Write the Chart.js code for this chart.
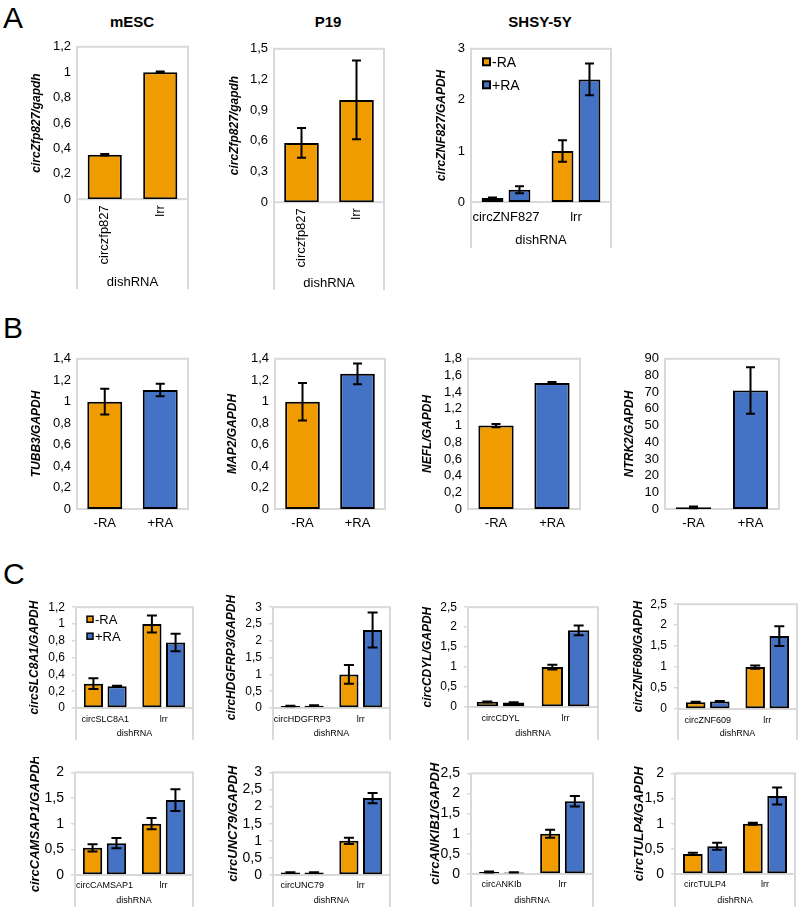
<!DOCTYPE html>
<html>
<head>
<meta charset="utf-8">
<script src="https://cdn.jsdelivr.net/npm/chart.js@4.4.1/dist/chart.umd.min.js"></script>
<style>
  body { margin: 0; background: #fff; width: 799px; height: 907px; position: relative; overflow: hidden;
         font-family: "Liberation Sans", Arial, sans-serif; }
  canvas { position: absolute; }
  .letter { position: absolute; font-size: 30px; line-height: 1; color: #000; }
  .ttl { position: absolute; font-size: 15px; font-weight: bold; line-height: 1; transform: translateX(-50%); color: #000; }
</style>
</head>
<body>
<div class="letter" style="left:3px;top:3px">A</div>
<div class="letter" style="left:3px;top:313px">B</div>
<div class="letter" style="left:3px;top:559px">C</div>
<div class="ttl" style="left:132px;top:14px">mESC</div>
<div class="ttl" style="left:328px;top:14px">P19</div>
<div class="ttl" style="left:540px;top:14px">SHSY-5Y</div>
<script>
// ---- data ----
const seriesNames = ["-RA", "+RA"];

// panel A
const mescCats = ["circzfp827", "lrr"];
const mescVals = [0.35, 1.0];
const mescErr = [0.005, 0.005];
const p19Cats = ["circzfp827", "lrr"];
const p19Vals = [0.58, 1.0];
const p19Err = [0.145, 0.385];
const shsyCats = ["circZNF827", "lrr"];
const shsyMinus = [0.08, 1.0];
const shsyMinusErr = [0.01, 0.21];
const shsyPlus = [0.24, 2.4];
const shsyPlusErr = [0.07, 0.31];

// panel B (-RA, +RA)
const raCats = ["-RA", "+RA"];
const tubb3Vals = [1.0, 1.11];
const tubb3Err = [0.12, 0.058];
const map2Vals = [1.0, 1.26];
const map2Err = [0.175, 0.097];
const neflVals = [1.0, 1.51];
const neflErr = [0.02, 0.012];
const ntrk2Vals = [1.0, 71];
const ntrk2Err = [0.5, 14];

// panel C (per gene: [circ knockdown, lrr])
const slc8a1Minus = [0.29, 1.0], slc8a1MinusErr = [0.063, 0.1];
const slc8a1Plus = [0.26, 0.78], slc8a1PlusErr = [0.005, 0.105];
const hdgfrp3Minus = [0.06, 1.0], hdgfrp3MinusErr = [0.01, 0.28];
const hdgfrp3Plus = [0.07, 2.32], hdgfrp3PlusErr = [0.01, 0.52];
const cdylMinus = [0.13, 1.0], cdylMinusErr = [0.01, 0.06];
const cdylPlus = [0.11, 1.92], cdylPlusErr = [0.01, 0.12];
const znf609Minus = [0.16, 1.0], znf609MinusErr = [0.01, 0.04];
const znf609Plus = [0.18, 1.74], znf609PlusErr = [0.01, 0.235];
const camsap1Minus = [0.53, 1.0], camsap1MinusErr = [0.07, 0.11];
const camsap1Plus = [0.62, 1.46], camsap1PlusErr = [0.1, 0.21];
const unc79Minus = [0.07, 1.0], unc79MinusErr = [0.01, 0.09];
const unc79Plus = [0.07, 2.25], unc79PlusErr = [0.01, 0.15];
const ankib1Minus = [0.05, 1.0], ankib1MinusErr = [0.01, 0.1];
const ankib1Plus = [0.04, 1.81], ankib1PlusErr = [0.005, 0.13];
const tulp4Minus = [0.4, 1.0], tulp4MinusErr = [0.02, 0.02];
const tulp4Plus = [0.55, 1.55], tulp4PlusErr = [0.07, 0.17];

const ORANGE = "#F09C00";
const BLUE = "#4472C4";
const FONT = '"Liberation Sans", Arial, sans-serif';

// comma decimals like the original
function fmt(v) {
  return (Math.round(v * 100) / 100).toString().replace(".", ",");
}

// error bars drawn from the y scale
const errorBars = {
  id: "errorBars",
  afterDatasetsDraw(chart, args, opts) {
    const ctx = chart.ctx;
    const y = chart.scales.y;
    chart.data.datasets.forEach((ds, i) => {
      chart.getDatasetMeta(i).data.forEach((bar, j) => {
        const v = ds.data[j], e = ds.errors[j];
        const top = y.getPixelForValue(v + e);
        const bot = y.getPixelForValue(Math.max(v - e, 0));
        ctx.save();
        ctx.strokeStyle = "#000";
        ctx.lineWidth = 2;
        ctx.beginPath();
        ctx.moveTo(bar.x, top); ctx.lineTo(bar.x, bot);
        ctx.moveTo(bar.x - opts.cap, top); ctx.lineTo(bar.x + opts.cap, top);
        ctx.moveTo(bar.x - opts.cap, bot); ctx.lineTo(bar.x + opts.cap, bot);
        ctx.stroke();
        ctx.restore();
      });
    });
  }
};

// grey plot frame + excel style category brackets
const frame = {
  id: "frame",
  beforeDatasetsDraw(chart, args, opts) {
    const { ctx, chartArea: a } = chart;
    ctx.save();
    ctx.strokeStyle = "#d9d9d9";
    ctx.lineWidth = 2;
    ctx.strokeRect(a.left, a.top, a.right - a.left, a.bottom - a.top);
    if (opts.ext) {
      ctx.beginPath();
      ctx.moveTo(a.left, a.bottom); ctx.lineTo(a.left, opts.ext);
      ctx.moveTo(a.right, a.bottom); ctx.lineTo(a.right, opts.ext);
      ctx.stroke();
    }
    ctx.restore();
  }
};

// small legend inside the plot, top left (like the excel one)
const boxLegend = {
  id: "boxLegend",
  afterDraw(chart, args, opts) {
    if (!opts.show) return;
    const { ctx, chartArea: a } = chart;
    ctx.save();
    chart.data.datasets.forEach((ds, i) => {
      const x = a.left + opts.x0;
      const cy = a.top + opts.y0 + i * opts.gap;
      ctx.fillStyle = ds.backgroundColor;
      ctx.fillRect(x, cy - opts.box / 2, opts.box, opts.box);
      ctx.strokeStyle = "#000";
      ctx.lineWidth = opts.lw;
      ctx.strokeRect(x, cy - opts.box / 2, opts.box, opts.box);
      ctx.fillStyle = "#000";
      ctx.font = opts.size + "px " + FONT;
      ctx.textBaseline = "middle";
      ctx.textAlign = "left";
      ctx.fillText(ds.label, x + opts.box + 2, cy + 1);
    });
    ctx.restore();
  }
};

function makeChart(o) {
  const L = o.tx - 10, T = o.pt - 12, R = o.pr + 5;
  const xlh = o.xf * 1.2;
  const B = Math.max(o.dy ? o.dy + xlh / 2 : o.pb + 26, o.ext || 0);
  const cv = document.createElement("canvas");
  cv.width = R - L;
  cv.height = Math.round(B - T);
  cv.style.left = L + "px";
  cv.style.top = T + "px";
  document.body.appendChild(cv);

  new Chart(cv, {
    type: "bar",
    data: {
      labels: o.cats,
      datasets: o.sets.map((s) => ({
        label: s.label,
        data: s.data,
        errors: s.err,
        backgroundColor: s.color,
        borderColor: "#000",
        borderWidth: 2,
        borderSkipped: false,
        categoryPercentage: o.cp,
        barPercentage: o.bp
      }))
    },
    options: {
      responsive: false,
      animation: false,
      layout: { padding: { top: 12, right: 5, left: 0, bottom: 0 } },
      plugins: {
        legend: { display: false },
        tooltip: { enabled: false },
        frame: { ext: o.ext ? o.ext - T : 0 },
        errorBars: { cap: o.cap },
        boxLegend: o.legend ? { show: true, ...o.legend } : { show: false }
      },
      scales: {
        x: {
          grid: { display: false, drawTicks: false },
          border: { display: false },
          ticks: {
            color: "#000", font: { family: FONT, size: o.xf }, padding: o.xp, autoSkip: false,
            maxRotation: o.rot ? 90 : 0, minRotation: o.rot ? 90 : 0
          },
          title: o.dy
            ? { display: true, text: "dishRNA", color: "#000", font: { family: FONT, size: o.xf },
                padding: { top: 0, bottom: B - o.dy - xlh / 2 } }
            : { display: false },
          afterFit: (s) => { s.height = B - o.pb; }
        },
        y: {
          min: 0,
          max: o.max,
          ticks: { stepSize: o.step, callback: fmt, color: "#000", font: { family: FONT, size: o.yfTick },
                   padding: o.marks ? 7 : 6, autoSkip: false },
          grid: o.marks
            ? { drawOnChartArea: false, drawTicks: true, tickLength: 4, color: "#d9d9d9", lineWidth: 1.5 }
            : { display: false, drawTicks: false },
          border: { display: false },
          title: { display: true, text: o.yt, color: "#000",
                   font: { family: FONT, size: o.yf, weight: "bold", style: "italic" },
                   padding: { top: 10 - o.yf * 0.6, bottom: 0 } },
          afterFit: (s) => { s.width = o.pl - L; }
        }
      }
    },
    plugins: [frame, errorBars, boxLegend]
  });
}

const two = (m, me, p, pe) => [
  { label: seriesNames[0], data: m, err: me, color: ORANGE },
  { label: seriesNames[1], data: p, err: pe, color: BLUE }
];

// ---- panel A ----
const aBase = { yf: 12, yfTick: 13, xf: 13, cap: 4.5 };
makeChart({ ...aBase, pl: 77, pt: 45, pr: 188, pb: 199, tx: 37, yt: "circZfp827/gapdh", max: 1.2, step: 0.2,
  cats: mescCats, sets: [{ label: "", data: mescVals, err: mescErr, color: ORANGE }],
  cp: 0.75, bp: 0.82, rot: true, xp: 6, dy: 282, ext: 289 });
makeChart({ ...aBase, pl: 274, pt: 47, pr: 384, pb: 202, tx: 235, yt: "circZfp827/gapdh", max: 1.5, step: 0.3,
  cats: p19Cats, sets: [{ label: "", data: p19Vals, err: p19Err, color: ORANGE }],
  cp: 0.75, bp: 0.84, rot: true, xp: 6, dy: 283, ext: 290 });
makeChart({ ...aBase, pl: 471, pt: 47, pr: 611, pb: 202, tx: 442, yt: "circZNF827/GAPDH", max: 3, step: 1,
  cats: shsyCats, sets: two(shsyMinus, shsyMinusErr, shsyPlus, shsyPlusErr),
  cp: 0.77, bp: 0.81, xp: 8, dy: 240, ext: 248,
  legend: { x0: 12, y0: 13, gap: 23, box: 7, lw: 2, size: 14 } });

// ---- panel B ----
const bBase = { yf: 12, yfTick: 13, xf: 13, cap: 4.5, xp: 7, cats: raCats, cp: 0.75, bp: 0.84 };
const raColors = [ORANGE, BLUE];
makeChart({ ...bBase, pl: 77, pt: 357, pr: 188, pb: 509, tx: 37, yt: "TUBB3/GAPDH", max: 1.4, step: 0.2,
  sets: [{ label: "", data: tubb3Vals, err: tubb3Err, color: raColors }] });
makeChart({ ...bBase, pl: 275, pt: 357, pr: 385, pb: 509, tx: 233, yt: "MAP2/GAPDH", max: 1.4, step: 0.2,
  sets: [{ label: "", data: map2Vals, err: map2Err, color: raColors }] });
makeChart({ ...bBase, pl: 468, pt: 357, pr: 580, pb: 509, tx: 428, yt: "NEFL/GAPDH", max: 1.8, step: 0.2,
  sets: [{ label: "", data: neflVals, err: neflErr, color: raColors }] });
makeChart({ ...bBase, pl: 665, pt: 357, pr: 779, pb: 509, tx: 630, yt: "NTRK2/GAPDH", max: 90, step: 10, bp: 0.82,
  sets: [{ label: "", data: ntrk2Vals, err: ntrk2Err, color: raColors }] });

// ---- panel C ----
const c1 = { yf: 12, yfTick: 12, xf: 9, cap: 5, cp: 0.81, bp: 0.81, marks: true, xp: 6, dy: 734, ext: 740 };
makeChart({ ...c1, pl: 76, pt: 605, pr: 193, pb: 708, tx: 35, yt: "circSLC8A1/GAPDH", max: 1.2, step: 0.2,
  cats: ["circSLC8A1", "lrr"], sets: two(slc8a1Minus, slc8a1MinusErr, slc8a1Plus, slc8a1PlusErr),
  legend: { x0: 11, y0: 12, gap: 17, box: 6, lw: 1.5, size: 13 } });
makeChart({ ...c1, pl: 273, pt: 605, pr: 390, pb: 708, tx: 232, yt: "circHDGFRP3/GAPDH", max: 3, step: 0.5,
  cats: ["circHDGFRP3", "lrr"], sets: two(hdgfrp3Minus, hdgfrp3MinusErr, hdgfrp3Plus, hdgfrp3PlusErr) });
makeChart({ ...c1, pl: 468, pt: 605, pr: 598, pb: 707, tx: 428, yt: "circCDYL/GAPDH", max: 2.5, step: 0.5,
  cats: ["circCDYL", "lrr"], sets: two(cdylMinus, cdylMinusErr, cdylPlus, cdylPlusErr) });
makeChart({ ...c1, pl: 678, pt: 602, pr: 797, pb: 709, tx: 639, yt: "circZNF609/GAPDH", max: 2.5, step: 0.5,
  cats: ["circZNF609", "lrr"], sets: two(znf609Minus, znf609MinusErr, znf609Plus, znf609PlusErr) });

const c2 = { yf: 13, yfTick: 14, xf: 9, cap: 5, cp: 0.81, bp: 0.81, marks: true, xp: 5, dy: 901, ext: 910 };
makeChart({ ...c2, pl: 75, pt: 769, pr: 193, pb: 875, tx: 35, yt: "circCAMSAP1/GAPDH", max: 2, step: 0.5,
  cats: ["circCAMSAP1", "lrr"], sets: two(camsap1Minus, camsap1MinusErr, camsap1Plus, camsap1PlusErr) });
makeChart({ ...c2, pl: 273, pt: 769, pr: 390, pb: 875, tx: 233, yt: "circUNC79/GAPDH", max: 3, step: 0.5,
  cats: ["circUNC79", "lrr"], sets: two(unc79Minus, unc79MinusErr, unc79Plus, unc79PlusErr) });
makeChart({ ...c2, pl: 471, pt: 770, pr: 593, pb: 874, tx: 435, yt: "circANKIB1/GAPDH", max: 2.5, step: 0.5,
  cats: ["circANKIb", "lrr"], sets: two(ankib1Minus, ankib1MinusErr, ankib1Plus, ankib1PlusErr) });
makeChart({ ...c2, pl: 675, pt: 770, pr: 795, pb: 874, tx: 639, yt: "circTULP4/GAPDH", max: 2, step: 0.5,
  cats: ["circTULP4", "lrr"], sets: two(tulp4Minus, tulp4MinusErr, tulp4Plus, tulp4PlusErr) });
</script>
</body>
</html>
